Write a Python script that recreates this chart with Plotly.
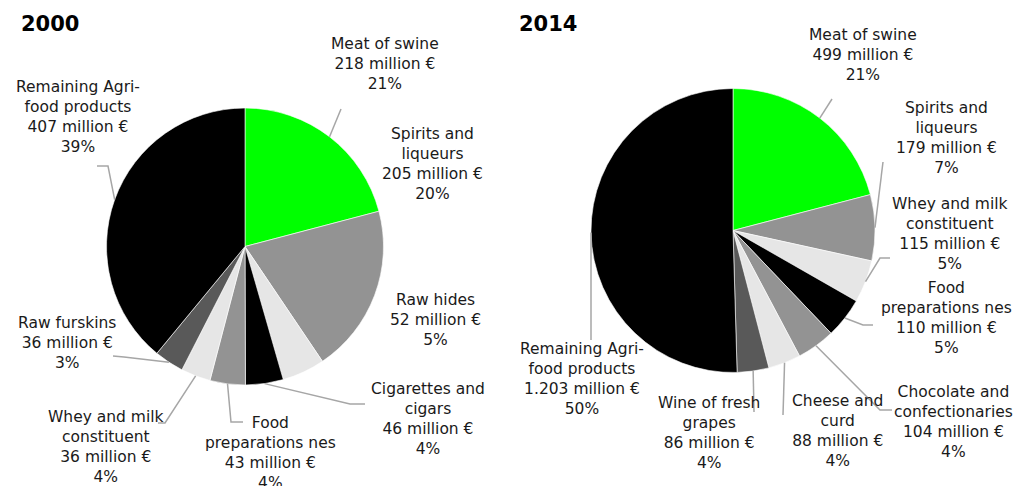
import math
import plotly.graph_objects as go

# data
categories_2000 = ["Meat of swine", "Spirits and<br>liqueurs", "Raw hides", "Cigarettes and<br>cigars",
                   "Food<br>preparations nes", "Whey and milk<br>constituent", "Raw furskins",
                   "Remaining Agri-<br>food products"]
values_2000 = [218, 205, 52, 46, 43, 36, 36, 407]
percent_2000 = ["21%", "20%", "5%", "4%", "4%", "4%", "3%", "39%"]

categories_2014 = ["Meat of swine", "Spirits and<br>liqueurs", "Whey and milk<br>constituent",
                   "Food<br>preparations nes", "Chocolate and<br>confectionaries", "Cheese and<br>curd",
                   "Wine of fresh<br>grapes", "Remaining Agri-<br>food products"]
values_2014 = [499, 179, 115, 110, 104, 88, 86, 1203]
percent_2014 = ["21%", "7%", "5%", "5%", "4%", "4%", "4%", "50%"]

slice_colors = ["#00ff00", "#939393", "#e6e6e6", "#000000", "#939393", "#e6e6e6", "#595959", "#000000"]

W, H = 1016, 486

# layout of each pie: centre and radius in pixels, label centres, leader line routes
pies = [
    dict(title="2000", title_x=19, cx=245, cy=246.5, r=138.5,
         cats=categories_2000, vals=values_2000, pcts=percent_2000,
         label_pos=[(385, 64), (432, 164), (435, 320), (428, 418.5),
                    (270, 452.5), (106, 447), (67, 343), (77.5, 116.5)],
         leaders=[[(341, 109)], None, None, [(350, 404), (365, 404)],
                  [(231, 422), (243, 422)], [(165, 423), (158, 423)],
                  [(124, 357), (113, 356)], [(108, 166), (97, 166)]]),
    dict(title="2014", title_x=517, cx=733, cy=230.5, r=142,
         cats=categories_2014, vals=values_2014, pcts=percent_2014,
         label_pos=[(862.5, 55), (946, 137.5), (950, 234), (946.5, 318),
                    (953, 422), (837, 431), (709, 433), (582, 378.5)],
         leaders=[[(832, 99)], [(883, 162)], [(880, 258), (890, 258)],
                  [(863, 325), (873, 325)], [(880, 410), (892, 410)],
                  [(783, 415)], [(754, 412)], [(591, 340)]]),
]


def px(x, y):
    return x / W, 1 - y / H


fig = go.Figure()
annotations = []
shapes = []

for p in pies:
    cx, cy, r = p["cx"], p["cy"], p["r"]
    fig.add_trace(go.Pie(
        labels=[c.replace("<br>", " ") for c in p["cats"]], values=p["vals"],
        sort=False, direction="clockwise", rotation=0,
        marker=dict(colors=slice_colors, line=dict(color="white", width=0.6)),
        textinfo="none", hoverinfo="label+value+percent", showlegend=False,
        domain=dict(x=[(cx - r) / W, (cx + r) / W], y=[1 - (cy + r) / H, 1 - (cy - r) / H]),
    ))
    annotations.append(dict(
        text="<b>%s</b>" % p["title"], x=p["title_x"] / W, y=1 - 24.5 / H,
        xref="paper", yref="paper", xanchor="left", yanchor="middle", showarrow=False,
        font=dict(family="DejaVu Sans", size=21, color="black"),
    ))
    total = sum(p["vals"])
    cum = 0
    for cat, v, pct, pos, route in zip(p["cats"], p["vals"], p["pcts"], p["label_pos"], p["leaders"]):
        mid = (cum + v / 2) / total * 2 * math.pi
        cum += v
        amount = "{:,}".format(v).replace(",", ".")
        lx, ly = px(*pos)
        annotations.append(dict(
            text="%s<br>%s million €<br>%s" % (cat, amount, pct),
            x=lx, y=ly, xref="paper", yref="paper", xanchor="center", yanchor="middle",
            align="center", showarrow=False,
            font=dict(family="DejaVu Sans", size=15.5, color="#1a1a1a"),
        ))
        if route:
            ex, ey = cx + r * math.sin(mid), cy - r * math.cos(mid)
            pts = [px(ex, ey)] + [px(*q) for q in route]
            path = "M " + " L ".join("%.5f,%.5f" % q for q in pts)
            shapes.append(dict(type="path", path=path, xref="paper", yref="paper",
                               line=dict(color="#a6a6a6", width=1.5)))

fig.update_layout(
    width=W, height=H,
    margin=dict(l=0, r=0, t=0, b=0),
    paper_bgcolor="white", plot_bgcolor="white",
    annotations=annotations, shapes=shapes,
)

# page body has a default 8px margin; drop it so the chart sits at the window corner
fig.write_html("out.html", config={"displayModeBar": False},
               post_script="document.body.style.margin='0';")
